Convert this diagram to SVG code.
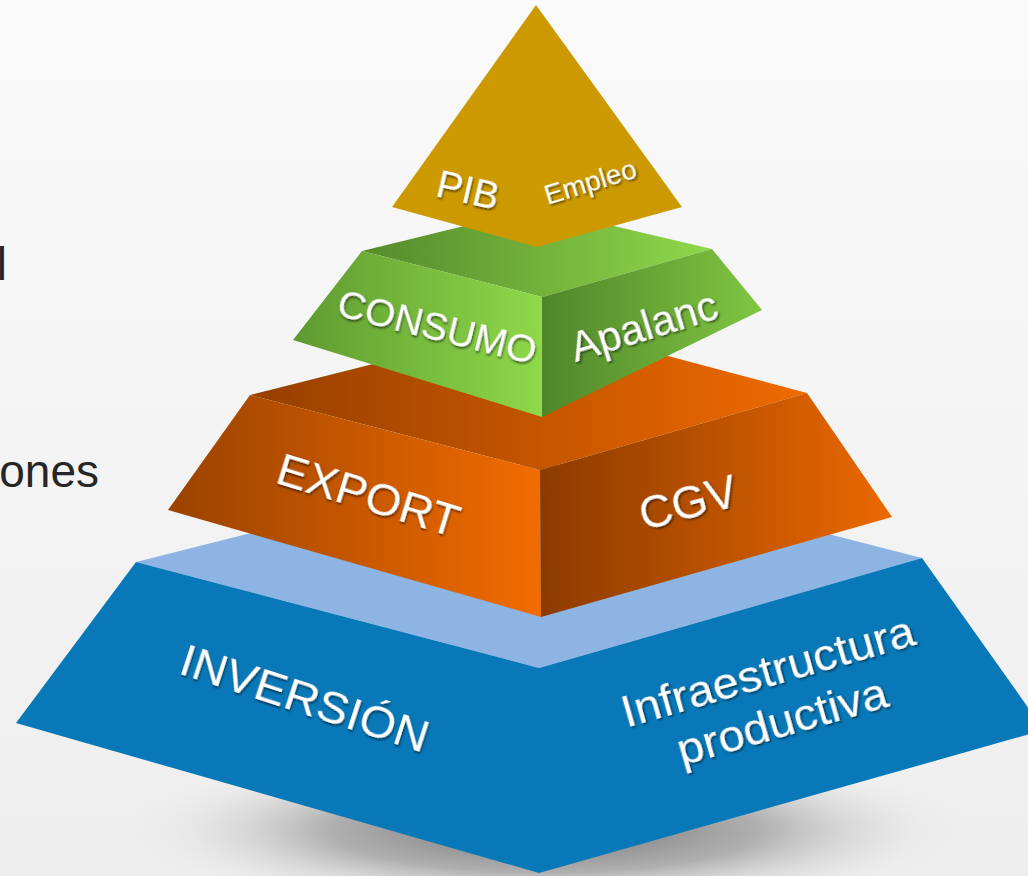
<svg xmlns="http://www.w3.org/2000/svg" width="1028" height="876" viewBox="0 0 1028 876">
  <defs>
    <linearGradient id="bg" x1="0" y1="0" x2="0" y2="1">
      <stop offset="0" stop-color="#fafafa"/>
      <stop offset="1" stop-color="#eeeeee"/>
    </linearGradient>
    <radialGradient id="shadow" cx="0.5" cy="0.5" r="0.5">
      <stop offset="0" stop-color="#6e6e6e" stop-opacity="1"/>
      <stop offset="0.5" stop-color="#a0a0a0" stop-opacity="0.8"/>
      <stop offset="1" stop-color="#eeeeee" stop-opacity="0"/>
    </radialGradient>
    <linearGradient id="gTop" gradientUnits="userSpaceOnUse" x1="362" y1="0" x2="712" y2="0">
      <stop offset="0" stop-color="#558a2b"/>
      <stop offset="1" stop-color="#8fd84b"/>
    </linearGradient>
    <linearGradient id="gLeft" gradientUnits="userSpaceOnUse" x1="293" y1="0" x2="542" y2="0">
      <stop offset="0" stop-color="#5e9a30"/>
      <stop offset="1" stop-color="#8fd94a"/>
    </linearGradient>
    <linearGradient id="gRight" gradientUnits="userSpaceOnUse" x1="542" y1="0" x2="762" y2="0">
      <stop offset="0" stop-color="#50862a"/>
      <stop offset="1" stop-color="#80c642"/>
    </linearGradient>
    <linearGradient id="oTop" gradientUnits="userSpaceOnUse" x1="250" y1="0" x2="807" y2="0">
      <stop offset="0" stop-color="#963f00"/>
      <stop offset="1" stop-color="#f06a00"/>
    </linearGradient>
    <linearGradient id="oLeft" gradientUnits="userSpaceOnUse" x1="168" y1="0" x2="541" y2="0">
      <stop offset="0" stop-color="#9a4200"/>
      <stop offset="1" stop-color="#f26c00"/>
    </linearGradient>
    <linearGradient id="oRight" gradientUnits="userSpaceOnUse" x1="541" y1="0" x2="892" y2="0">
      <stop offset="0" stop-color="#8c3b00"/>
      <stop offset="1" stop-color="#ec6900"/>
    </linearGradient>
    <filter id="ts" x="-10%" y="-30%" width="120%" height="160%">
      <feDropShadow dx="1.2" dy="1.8" stdDeviation="0.9" flood-color="#000000" flood-opacity="0.6"/>
    </filter>
    <style>
      .lbl { font-family: "Liberation Sans", Arial, sans-serif; fill: #ffffff; filter: url(#ts); }
      .side { font-family: "Liberation Sans", Arial, sans-serif; fill: #262626; font-size: 46px; }
      .blue { fill: #0878b8; }
      .blueTop { fill: #8db4e2; }
      .gold { fill: #cc9a00; }
    </style>
  </defs>

  <rect x="0" y="0" width="1028" height="876" fill="url(#bg)"/>

  <g id="side-text">
    <text class="side" x="7" y="280" text-anchor="end">l</text>
    <text class="side" x="99" y="487" text-anchor="end">ones</text>
  </g>

  <ellipse id="ground-shadow" cx="545" cy="830" rx="430" ry="85" fill="url(#shadow)"/>

  <g id="layer-inversion">
    <polygon class="blueTop" points="136,562 540,460 922,558 539,668"/>
    <polygon class="blue" points="136,562 539,668 539,873 16,723"/>
    <polygon class="blue" points="539,668 922,558 1044,730 539,873"/>
    <g transform="translate(300,713) rotate(18) scale(1,0.93)">
      <text class="lbl" x="0" y="0" font-size="47" text-anchor="middle">INVERSIÓN</text>
    </g>
    <g transform="translate(772,686) rotate(-16) scale(1,0.95)">
      <text class="lbl" x="0" y="0" font-size="47" text-anchor="middle">Infraestructura</text>
      <text class="lbl" x="0" y="55" font-size="47" text-anchor="middle">productiva</text>
    </g>
  </g>

  <g id="layer-export">
    <polygon fill="url(#oTop)" points="250,395 540,322 807,393 540,470"/>
    <polygon fill="url(#oLeft)" points="250,395 540,470 541,617 168,510"/>
    <polygon fill="url(#oRight)" points="540,470 807,393 892,517 541,617"/>
    <g transform="translate(364,510) rotate(17) scale(1,0.95)">
      <text class="lbl" x="0" y="0" font-size="46" text-anchor="middle">EXPORT</text>
    </g>
    <g transform="translate(692,518) rotate(-15)">
      <text class="lbl" x="0" y="0" font-size="46" text-anchor="middle">CGV</text>
    </g>
  </g>

  <g id="layer-consumo">
    <polygon fill="url(#gTop)" points="362,251 537,208 712,249 542,297"/>
    <polygon fill="url(#gLeft)" points="362,251 542,297 542,417 293,340"/>
    <polygon fill="url(#gRight)" points="542,297 712,249 762,310 542,417"/>
    <g transform="translate(434,340) rotate(14)">
      <text class="lbl" x="0" y="0" font-size="39" text-anchor="middle">CONSUMO</text>
    </g>
    <g transform="translate(648,340) rotate(-17)">
      <text class="lbl" x="0" y="0" font-size="42" text-anchor="middle">Apalanc</text>
    </g>
  </g>

  <g id="layer-pib">
    <polygon class="gold" points="536,5 682,207 537,247 392,207"/>
    <g transform="translate(465,203) rotate(13)">
      <text class="lbl" x="0" y="0" font-size="39" text-anchor="middle">PIB</text>
    </g>
    <g transform="translate(593,191) rotate(-17)">
      <text class="lbl" x="0" y="0" font-size="28" text-anchor="middle">Empleo</text>
    </g>
  </g>
</svg>
